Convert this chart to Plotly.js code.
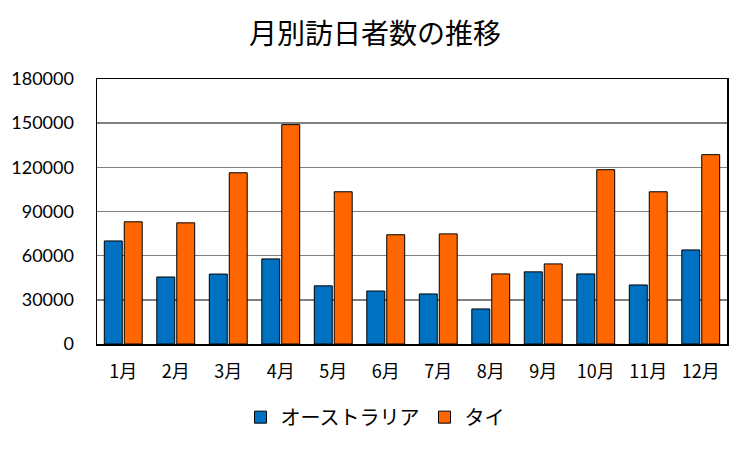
<!DOCTYPE html>
<html>
<head>
<meta charset="utf-8">
<script src="https://cdn.plot.ly/plotly-3.0.1.min.js"></script>
<style>
  html, body { margin: 0; padding: 0; background: #fff; }
  #chart { width: 750px; height: 450px; }
</style>
</head>
<body>
<div id="chart"></div>
<script>
var months = ['1月', '2月', '3月', '4月', '5月', '6月', '7月', '8月', '9月', '10月', '11月', '12月'];
var australia = [70000, 45500, 47500, 57800, 39500, 36000, 34000, 23800, 49000, 47600, 40100, 63900];
var thailand = [83000, 82300, 116300, 149000, 103400, 74200, 74800, 47600, 54400, 118400, 103400, 128600];

var jpFont = '"Noto Sans CJK JP", sans-serif';

var data = [
    {
        x: months,
        y: australia,
        name: 'オーストラリア',
        type: 'bar',
        marker: { color: '#0070C0', line: { color: '#000', width: 1 } }
    },
    {
        x: months,
        y: thailand,
        name: 'タイ',
        type: 'bar',
        marker: { color: '#FF6600', line: { color: '#000', width: 1 } }
    }
];

var layout = {
    width: 750,
    height: 450,
    margin: { l: 97, r: 23, t: 79, b: 106 },
    paper_bgcolor: '#fff',
    plot_bgcolor: '#fff',
    title: {
        text: '月別訪日者数の推移',
        font: { family: jpFont, size: 28, color: '#000' },
        xref: 'container', x: 0.5, xanchor: 'center',
        yref: 'container', y: 0.924, yanchor: 'middle'
    },
    barmode: 'group',
    bargap: 0.24,
    bargroupgap: 0.1,
    xaxis: {
        showline: true, linecolor: '#000', linewidth: 1.5, mirror: true,
        ticks: '', ticklabelstandoff: 11,
        tickfont: { family: jpFont, size: 18, color: '#000' },
        fixedrange: true
    },
    yaxis: {
        range: [0, 180000],
        dtick: 30000,
        tickformat: 'd',
        showline: true, linecolor: '#000', linewidth: 1.5, mirror: true,
        showgrid: true, gridcolor: '#808080', gridwidth: 1.5,
        zeroline: false,
        ticks: '', ticklabelstandoff: 18,
        tickfont: { family: 'Lato, sans-serif', size: 18, color: '#000' },
        fixedrange: true
    },
    showlegend: true,
    legend: {
        orientation: 'h',
        xref: 'container', x: 0.5, xanchor: 'center',
        yref: 'container', y: 0.073, yanchor: 'middle',
        font: { family: jpFont, size: 20, color: '#000' },
        itemwidth: 30
    }
};

Plotly.newPlot('chart', data, layout, { displayModeBar: false, staticPlot: true });
</script>
</body>
</html>
